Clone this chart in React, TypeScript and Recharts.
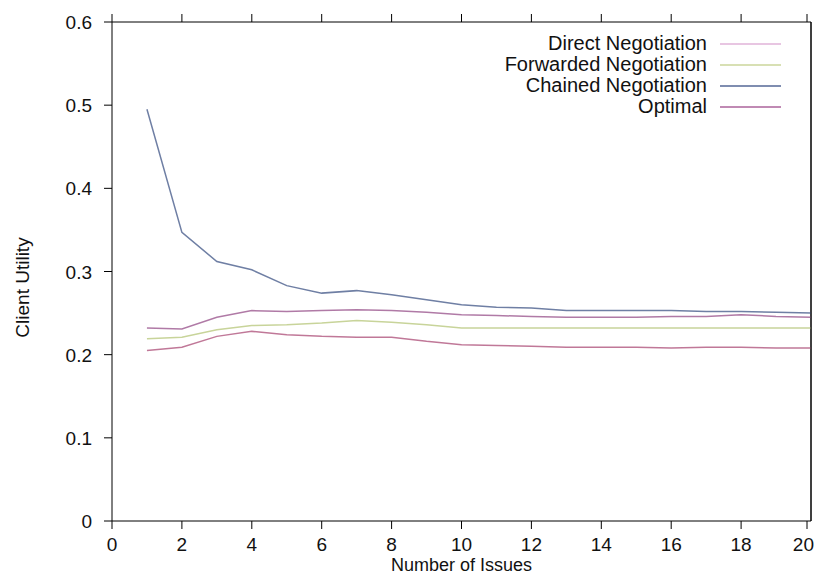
import React from "react";
import { LineChart, Line, XAxis, YAxis, ReferenceLine } from "recharts";

const issues = [1, 2, 3, 4, 5, 6, 7, 8, 9, 10, 11, 12, 13, 14, 15, 16, 17, 18, 19, 20];
const direct = [0.205, 0.209, 0.222, 0.228, 0.224, 0.222, 0.221, 0.221, 0.216, 0.212, 0.211, 0.210, 0.209, 0.209, 0.209, 0.208, 0.209, 0.209, 0.208, 0.208];
const forwarded = [0.219, 0.221, 0.230, 0.235, 0.236, 0.238, 0.241, 0.239, 0.236, 0.232, 0.232, 0.232, 0.232, 0.232, 0.232, 0.232, 0.232, 0.232, 0.232, 0.232];
const chained = [0.495, 0.347, 0.312, 0.302, 0.283, 0.274, 0.277, 0.272, 0.266, 0.260, 0.257, 0.256, 0.253, 0.253, 0.253, 0.253, 0.252, 0.252, 0.251, 0.250];
const optimal = [0.232, 0.231, 0.245, 0.253, 0.252, 0.253, 0.254, 0.253, 0.251, 0.248, 0.247, 0.246, 0.245, 0.245, 0.245, 0.246, 0.246, 0.248, 0.246, 0.245];

const xTicks = [0, 2, 4, 6, 8, 10, 12, 14, 16, 18, 20];
const yTicks = [0, 0.1, 0.2, 0.3, 0.4, 0.5, 0.6];

const seriesNames = ["Direct Negotiation", "Forwarded Negotiation", "Chained Negotiation", "Optimal"];
const legendColors = ["#e8c6e2", "#d8e0b4", "#7f8db0", "#c08ab4"];

const data = issues.map((n, i) => ({
  n,
  direct: direct[i],
  forwarded: forwarded[i],
  chained: chained[i],
  optimal: optimal[i],
}));

const FONT = "'Liberation Sans', Arial, sans-serif";
const FS = 19;
const TL = 8;
const W = 807;
const H = 570;

const BottomTick = (props: any) => {
  const { x, y, payload } = props;
  const last = payload.value === 20;
  return (
    <g>
      <line x1={x} y1={y} x2={x} y2={y - TL} stroke="#000" strokeWidth={1} />
      <text x={last ? W - 1 : x} y={y + 22} textAnchor={last ? "end" : "middle"} fontSize={FS} fontFamily={FONT} fill="#111">
        {payload.value}
      </text>
    </g>
  );
};
const TopTick = (props: any) => {
  const { x, y } = props;
  return <line x1={x} y1={y} x2={x} y2={y + TL} stroke="#000" strokeWidth={1} />;
};
const LeftTick = (props: any) => {
  const { x, y, payload } = props;
  return (
    <g>
      <line x1={x} y1={y} x2={x + TL} y2={y} stroke="#000" strokeWidth={1} />
      <text x={x - 12} y={y + 7} textAnchor="end" fontSize={FS} fontFamily={FONT} fill="#111">
        {payload.value === 0 ? "0" : payload.value.toFixed(1)}
      </text>
    </g>
  );
};
const RightTick = (props: any) => {
  const { x, y } = props;
  return <line x1={x} y1={y} x2={x - TL} y2={y} stroke="#000" strokeWidth={1} />;
};

const YTitle = (props: any) => {
  const vb = props.viewBox || { x: 0, y: 0, width: 0, height: 0 };
  const cx = 14;
  const cy = vb.y + vb.height / 2 + 16;
  return (
    <text x={cx} y={cy} transform={`rotate(-90 ${cx} ${cy})`} textAnchor="middle" dominantBaseline="central" fontSize={19} fontFamily={FONT} fill="#111">
      Client Utility
    </text>
  );
};

const XTitle = (props: any) => {
  const vb = props.viewBox || { x: 0, y: 0, width: 0, height: 0 };
  const cx = vb.x + vb.width / 2;
  return (
    <text x={cx} y={563} textAnchor="middle" fontSize={18} fontFamily={FONT} fill="#111">
      Number of Issues
    </text>
  );
};

const LegendBox = () => (
  <div style={{ position: "absolute", top: 25, left: 300, width: 473, fontFamily: FONT, fontSize: 20, color: "#111", lineHeight: "21px" }}>
    {seriesNames.map((name, i) => (
      <div key={name} style={{ display: "flex", alignItems: "center", justifyContent: "flex-end", height: 21 }}>
        <span style={{ textAlign: "right" }}>{name}</span>
        <span style={{ display: "inline-block", width: 61, height: 2, background: legendColors[i], marginLeft: 13 }} />
      </div>
    ))}
  </div>
);

export default function App() {
  return (
    <div style={{ position: "relative", width: W, height: H, background: "#fff" }}>
      <LineChart width={W} height={H} data={data} margin={{ top: 13, right: 3, bottom: 4, left: 20 }}>
        <XAxis
          xAxisId="b"
          dataKey="n"
          type="number"
          domain={[0, 20]}
          ticks={xTicks}
          axisLine={{ stroke: "#000" }}
          tickLine={false}
          tick={<BottomTick />}
          height={53}
          label={<XTitle />}
        />
        <XAxis
          xAxisId="t"
          dataKey="n"
          type="number"
          orientation="top"
          domain={[0, 20]}
          ticks={xTicks}
          axisLine={{ stroke: "#000" }}
          tickLine={false}
          tick={<TopTick />}
          height={1}
        />
        <YAxis
          yAxisId="l"
          type="number"
          domain={[0, 0.6]}
          ticks={yTicks}
          axisLine={{ stroke: "#000" }}
          tickLine={false}
          tick={<LeftTick />}
          width={84}
          label={<YTitle />}
        />
        <YAxis
          yAxisId="r"
          orientation="right"
          type="number"
          domain={[0, 0.6]}
          ticks={yTicks}
          axisLine={{ stroke: "#000" }}
          tickLine={false}
          tick={<RightTick />}
          width={1}
        />
        <ReferenceLine xAxisId="b" yAxisId="l" x={20} stroke="#000" strokeWidth={1} />
        <Line xAxisId="b" yAxisId="l" type="linear" dataKey="direct" name={seriesNames[0]} stroke="#c07898" strokeWidth={1.5} dot={false} isAnimationActive={false} />
        <Line xAxisId="b" yAxisId="l" type="linear" dataKey="forwarded" name={seriesNames[1]} stroke="#c8d49a" strokeWidth={1.5} dot={false} isAnimationActive={false} />
        <Line xAxisId="b" yAxisId="l" type="linear" dataKey="chained" name={seriesNames[2]} stroke="#6f7fa4" strokeWidth={1.5} dot={false} isAnimationActive={false} />
        <Line xAxisId="b" yAxisId="l" type="linear" dataKey="optimal" name={seriesNames[3]} stroke="#b07aa6" strokeWidth={1.5} dot={false} isAnimationActive={false} />
      </LineChart>
      <LegendBox />
    </div>
  );
}
